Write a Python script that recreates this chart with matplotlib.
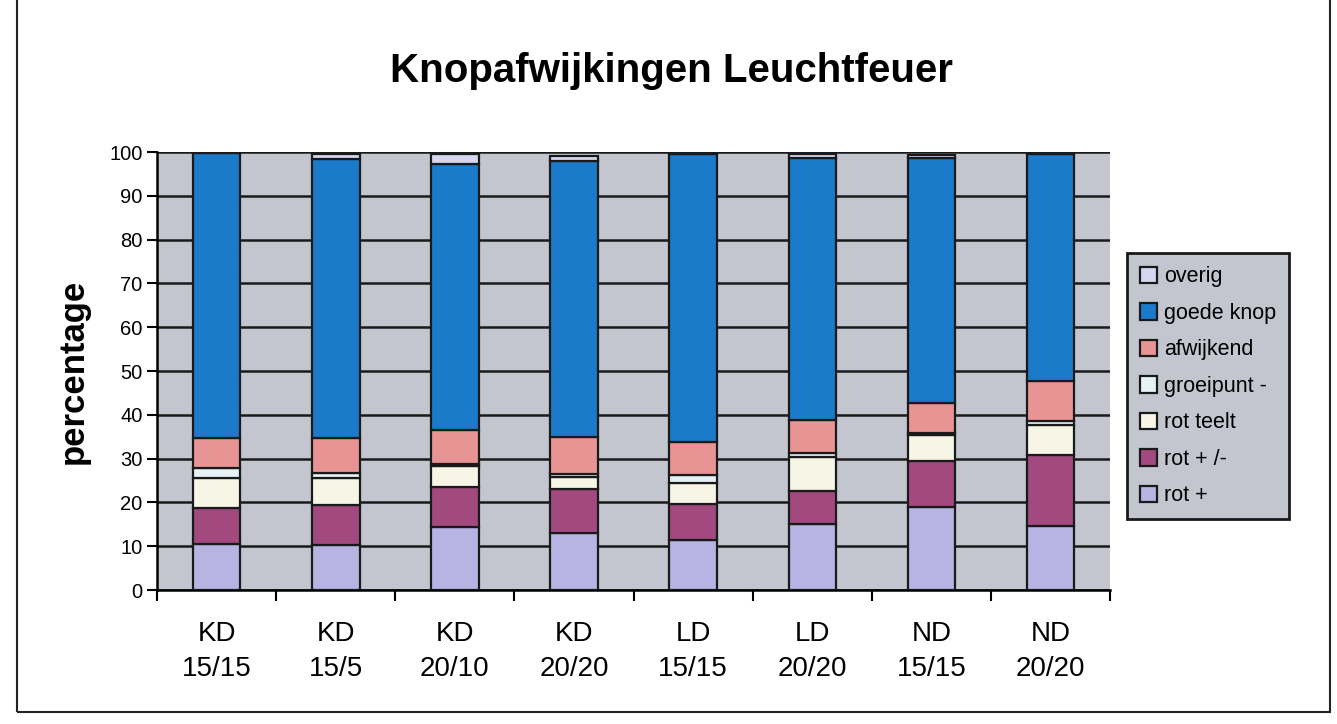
import numpy as np
import matplotlib.pyplot as plt
from matplotlib.patches import Rectangle

plt.rcParams['font.family'] = ['Liberation Sans', 'DejaVu Sans']

categories = ['KD\n15/15', 'KD\n15/5', 'KD\n20/10', 'KD\n20/20',
              'LD\n15/15', 'LD\n20/20', 'ND\n15/15', 'ND\n20/20']

rot_plus = [10.5, 10.2, 14.3, 13.0, 11.5, 15.0, 19.0, 14.6]
rot_plusmin = [8.3, 9.3, 9.2, 10.0, 8.2, 7.6, 10.4, 16.2]
rot_teelt = [6.7, 6.0, 4.8, 2.8, 4.8, 7.8, 6.1, 6.9]
groeipunt = [2.3, 1.2, 0.5, 0.6, 1.8, 0.9, 0.4, 1.0]
afwijkend = [7.0, 8.0, 7.8, 8.6, 7.5, 7.5, 6.8, 9.0]
goede_knop = [65.0, 63.7, 60.6, 63.0, 65.8, 59.8, 55.9, 51.8]
overig = [0.2, 1.2, 2.4, 1.0, 0.4, 0.9, 0.8, 0.4]

series = [
    ('rot +', rot_plus, '#b7b3e2'),
    ('rot + /-', rot_plusmin, '#a24a80'),
    ('rot teelt', rot_teelt, '#f6f5e6'),
    ('groeipunt -', groeipunt, '#e6f2f6'),
    ('afwijkend', afwijkend, '#e99494'),
    ('goede knop', goede_knop, '#1b7bcb'),
    ('overig', overig, '#d6d6f0'),
]

fig = plt.figure(figsize=(13.37, 7.24), dpi=100)
ax = fig.add_axes([0.1174, 0.185, 0.713, 0.605])
ax.set_facecolor('#c3c5cf')

x = np.arange(len(categories))
bottom = np.zeros(len(categories))
handles = []
for name, vals, col in series:
    b = ax.bar(x, vals, 0.4, bottom=bottom, color=col, edgecolor='#1a1a1a',
               linewidth=1.6, label=name, zorder=3)
    handles.append(b)
    bottom += np.array(vals)

ax.set_ylim(0, 100)
ax.set_xlim(-0.5, len(categories) - 0.5)
ax.set_yticks(np.arange(0, 101, 10))
ax.yaxis.grid(True, color='#1a1a1a', linewidth=1.8, zorder=1)
ax.set_axisbelow(True)

ax.set_xticks(np.arange(-0.5, len(categories)), minor=False)
ax.set_xticklabels([])
ax.set_xticks(x, minor=True)
ax.set_xticklabels(categories, minor=True, fontsize=20, linespacing=1.45)
ax.tick_params(axis='x', which='minor', length=0, pad=22)
ax.tick_params(axis='x', which='major', length=8, width=1.5, direction='out')
ax.tick_params(axis='y', length=7, width=1.5, direction='out', labelsize=14.5)

for side in ['top', 'right']:
    ax.spines[side].set_visible(False)
for side in ['left', 'bottom']:
    ax.spines[side].set_linewidth(1.8)

ax.set_ylabel('percentage', fontsize=25, fontweight='bold', labelpad=14)

fig.text(0.502, 0.902, 'Knopafwijkingen Leuchtfeuer', ha='center', va='center',
         fontsize=29, fontweight='bold')

leg = fig.legend(handles[::-1], [s[0] for s in series][::-1],
                 loc='upper left', bbox_to_anchor=(0.843, 0.65),
                 fontsize=15.5, frameon=True, fancybox=False,
                 handlelength=0.8, handleheight=0.8, handletextpad=0.3,
                 labelspacing=0.72, borderpad=0.6, borderaxespad=0)
leg.get_frame().set_facecolor('#c3c5cf')
leg.get_frame().set_edgecolor('#1a1a1a')
leg.get_frame().set_linewidth(2)
leg.get_frame().set_alpha(1)

fig.patches.append(Rectangle((0.013, 0.017), 0.982, 0.99, transform=fig.transFigure,
                             fill=False, edgecolor='#222222', linewidth=1.5))

fig.savefig('out.png', dpi=100)
